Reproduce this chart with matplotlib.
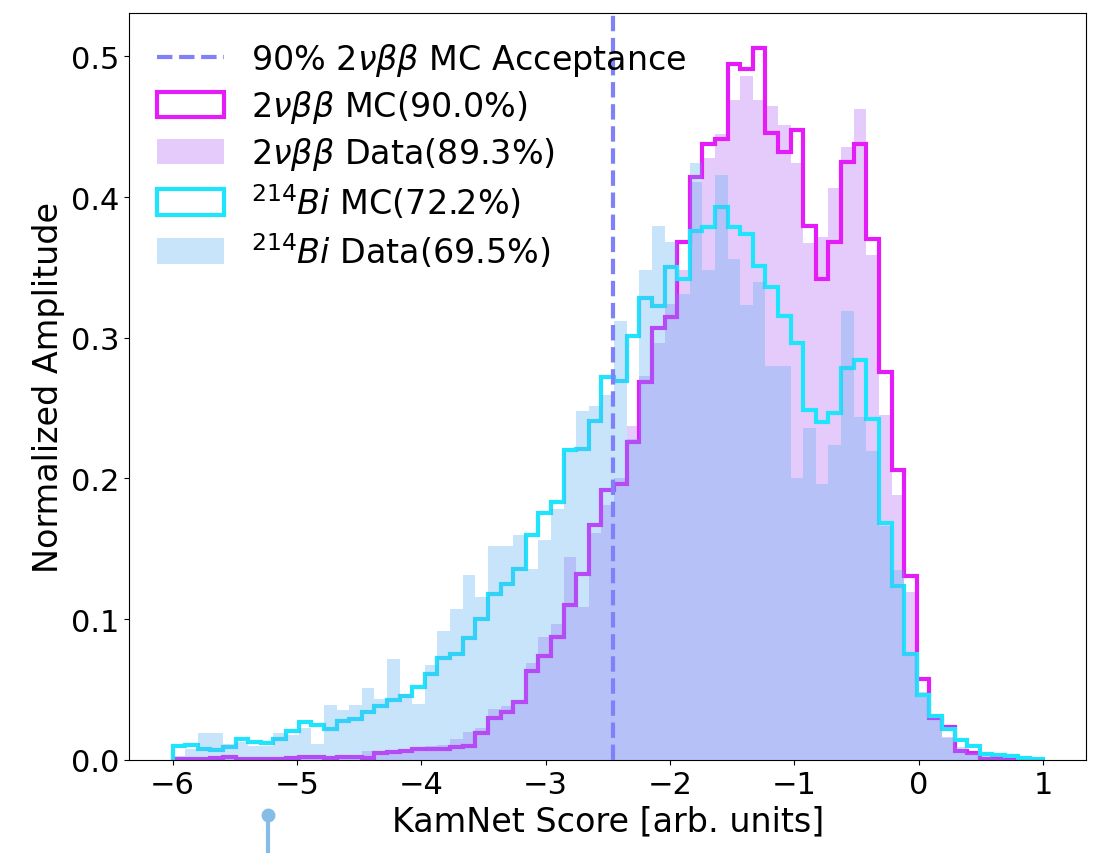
import matplotlib.pyplot as plt
import numpy as np
from matplotlib.lines import Line2D

# KamNet score binning: 70 edges between -6 and 1
edges = np.linspace(-6, 1, 70)
centers = 0.5 * (edges[:-1] + edges[1:])

# 2vbb MC (normalized amplitude per bin)
bb_mc = [0.001, 0.001, 0.001, 0.0015, 0.002, 0.001, 0.001, 0.001, 0.001, 0.0012,
         0.002, 0.0024, 0.0012, 0.0024, 0.0018, 0.0012, 0.0047, 0.0057, 0.0064, 0.008,
         0.0076, 0.008, 0.009, 0.010, 0.0188, 0.030, 0.034, 0.041, 0.0635, 0.074,
         0.087, 0.110, 0.132, 0.167, 0.192, 0.196, 0.226, 0.2686, 0.307, 0.315,
         0.3677, 0.4144, 0.4374, 0.441, 0.4944, 0.491, 0.506, 0.4458, 0.4317, 0.4476,
         0.3796, 0.342, 0.368, 0.4246, 0.4378, 0.370, 0.276, 0.2058, 0.131, 0.0576,
         0.030, 0.0232, 0.006, 0.005, 0.001, 0.0005, 0.0003, 0.0002, 0.0001]

# 2vbb data
bb_data = [0.0005, 0.001, 0.0005, 0.001, 0.001, 0.0005, 0.001, 0.0015, 0.001, 0.001,
           0.0015, 0.002, 0.001, 0.002, 0.0015, 0.0064, 0.005, 0.006, 0.007, 0.009,
           0.010, 0.0104, 0.015, 0.020, 0.023, 0.036, 0.038, 0.042, 0.069, 0.087,
           0.0967, 0.144, 0.1086, 0.161, 0.181, 0.200, 0.237, 0.273, 0.296, 0.324,
           0.348, 0.411, 0.4274, 0.445, 0.469, 0.486, 0.469, 0.465, 0.451, 0.424,
           0.367, 0.3717, 0.4066, 0.4357, 0.4624, 0.3587, 0.245, 0.1885, 0.119, 0.048,
           0.030, 0.016, 0.008, 0.004, 0.002, 0.001, 0.0005, 0.0003, 0.0002]

# 214Bi MC
bi_mc = [0.010, 0.0104, 0.0076, 0.0069, 0.0095, 0.0152, 0.0128, 0.0119, 0.0152, 0.0204,
         0.0266, 0.0247, 0.0223, 0.0275, 0.0294, 0.0337, 0.0384, 0.0427, 0.0455, 0.0517,
         0.0609, 0.0723, 0.0756, 0.0866, 0.0998, 0.118, 0.1247, 0.1354, 0.160, 0.1757,
         0.1833, 0.220, 0.2212, 0.241, 0.272, 0.269, 0.301, 0.328, 0.3227, 0.350,
         0.342, 0.3758, 0.379, 0.393, 0.379, 0.374, 0.351, 0.336, 0.3155, 0.2966,
         0.249, 0.240, 0.2468, 0.2786, 0.284, 0.242, 0.168, 0.1235, 0.0754, 0.0458,
         0.0315, 0.022, 0.0138, 0.0102, 0.0043, 0.0036, 0.0026, 0.0012, 0.0007]

# 214Bi data
bi_data = [0.003, 0.008, 0.0194, 0.0194, 0.011, 0.0128, 0.010, 0.010, 0.0194, 0.018,
           0.023, 0.0116, 0.0393, 0.0353, 0.0393, 0.0514, 0.0436, 0.0716, 0.0467, 0.0396,
           0.0676, 0.0915, 0.107, 0.1316, 0.1157, 0.1517, 0.1517, 0.160, 0.1358, 0.156,
           0.178, 0.219, 0.2477, 0.2513, 0.2596, 0.3117, 0.228, 0.348, 0.3796, 0.3677,
           0.331, 0.424, 0.348, 0.4156, 0.3556, 0.3236, 0.3393, 0.280, 0.280, 0.200,
           0.236, 0.196, 0.224, 0.319, 0.2437, 0.2195, 0.166, 0.135, 0.077, 0.0446,
           0.0296, 0.0154, 0.009, 0.005, 0.0026, 0.0015, 0.001, 0.0005, 0.0003]

cut = -2.46  # 90% 2vbb MC acceptance threshold

labels = [r'90% $2\nu\beta\beta$ MC Acceptance',
          r'$2\nu\beta\beta$ MC(90.0%)',
          r'$2\nu\beta\beta$ Data(89.3%)',
          r'$^{214}Bi$ MC(72.2%)',
          r'$^{214}Bi$ Data(69.5%)']

fig = plt.figure(figsize=(11.03, 8.54), dpi=100)
ax = fig.add_axes([0.117, 0.109, 0.868, 0.875])

_, _, p_bb_data = ax.hist(centers, bins=edges, weights=bb_data,
                          color='#9933f2', alpha=0.25, zorder=1)
_, _, p_bb_mc = ax.hist(centers, bins=edges, weights=bb_mc, histtype='step',
                        color='#e41cf8', lw=3, zorder=2)
_, _, p_bi_mc = ax.hist(centers, bins=edges, weights=bi_mc, histtype='step',
                        color='#1ee4fc', lw=3, zorder=2)
_, _, p_bi_data = ax.hist(centers, bins=edges, weights=bi_data,
                          color='#59adf0', alpha=0.33, zorder=3)
cut_line = ax.axvline(cut, ls='--', color='#8080f8', lw=3, zorder=4)

ax.set_xlim(-6.35, 1.35)
ax.set_ylim(0, 0.531)
ax.set_xlabel('KamNet Score [arb. units]', fontsize=24)
ax.set_ylabel('Normalized Amplitude', fontsize=24)
ax.tick_params(labelsize=22)

handles = [cut_line, p_bb_mc[0], p_bb_data[0], p_bi_mc[0], p_bi_data[0]]
ax.legend(handles, labels, loc='upper left', frameon=False, fontsize=24,
          labelspacing=0.3, handleheight=0.8, borderaxespad=0.45)

# slider pin below the axis
fig.add_artist(Line2D([0.243, 0.243], [0.0, 0.040], transform=fig.transFigure,
                      color='#85bde6', lw=3))
fig.add_artist(Line2D([0.243], [0.045], transform=fig.transFigure,
                      marker='o', ms=9, color='#85bde6'))

fig.savefig('out.png', dpi=100)
